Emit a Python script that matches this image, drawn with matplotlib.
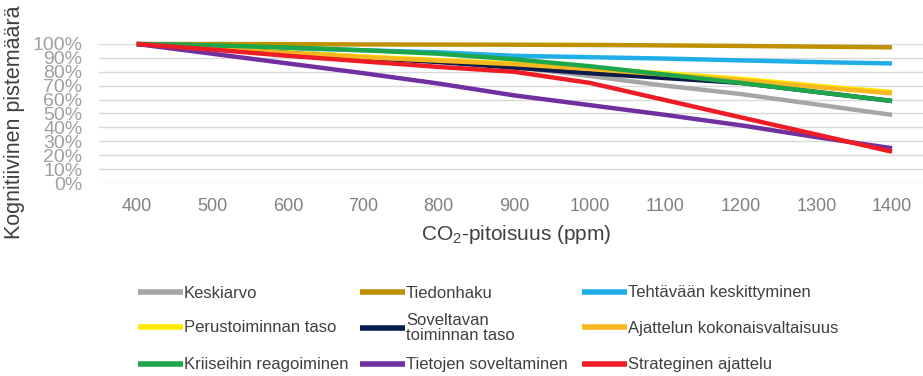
import matplotlib
matplotlib.use('Agg')
import matplotlib.pyplot as plt

plt.rcParams['font.family'] = ['Liberation Sans', 'DejaVu Sans']
plt.rcParams['mathtext.default'] = 'regular'

# ---- data ----
ppm = [400, 500, 600, 700, 800, 900, 1000, 1100, 1200, 1300, 1400]

keskiarvo      = [100, 97, 94, 91, 87.5, 83.5, 77, 70, 64, 56.5, 49]
tiedonhaku     = [100, 100, 99.8, 99.7, 99.6, 99.5, 99.3, 99, 98.6, 98.1, 97.6]
tehtavaan      = [100, 98.5, 97, 95.5, 94, 91.5, 90.5, 89.5, 88.2, 87, 86]
perustoiminnan = [100, 97.5, 94, 91, 88.5, 86, 82.5, 79, 75, 70, 65.5]
soveltavan     = [100, 97, 93.5, 90, 87, 83, 79, 75.5, 72, 65.5, 59]
ajattelun      = [100, 97, 93.5, 90.5, 88, 85.5, 82, 78, 74, 69, 64.5]
kriiseihin     = [100, 99, 97.5, 95.5, 93, 89, 84, 78, 72, 65.5, 59]
tietojen       = [100, 93, 86, 79, 71.5, 63, 56, 49, 41.5, 33, 25]
strateginen    = [100, 96, 91.5, 87.5, 83.5, 80, 72, 59.6, 47.2, 34.9, 22.5]

series = [
    ('Keskiarvo', keskiarvo, '#A6A6A6'),
    ('Tiedonhaku', tiedonhaku, '#BF9000'),
    ('Tehtävään keskittyminen', tehtavaan, '#1FAEE8'),
    ('Perustoiminnan taso', perustoiminnan, '#FFEB00'),
    ('Soveltavan\ntoiminnan taso', soveltavan, '#0A1A4A'),
    ('Ajattelun kokonaisvaltaisuus', ajattelun, '#F7B71E'),
    ('Kriiseihin reagoiminen', kriiseihin, '#1DA64A'),
    ('Tietojen soveltaminen', tietojen, '#7030A0'),
    ('Strateginen ajattelu', strateginen, '#EE1C25'),
]

W, H = 923, 376
fig = plt.figure(figsize=(W / 100, H / 100), dpi=100)
ax = fig.add_axes([99 / W, 1 - 183 / H, (W - 99) / W, (183 - 44) / H])

lines = []
for name, vals, col in series:
    ln, = ax.plot(ppm, vals, color=col, linewidth=3.2, label=name,
                  solid_capstyle='butt', clip_on=False)
    lines.append(ln)

ax.set_xlim(350, 1441)
ax.set_ylim(0, 100)
ax.set_xticks(ppm)
ax.set_yticks(range(0, 101, 10))
ax.set_yticklabels([f'{v}%' for v in range(0, 101, 10)])
ax.grid(True, axis='y', color='#D9D9D9', linewidth=1)
ax.set_axisbelow(True)
for s in ax.spines.values():
    s.set_visible(False)
ax.tick_params(axis='x', length=0, pad=11, labelsize=13, labelcolor='#808080')
ax.tick_params(axis='y', length=0, pad=12, labelsize=14, labelcolor='#A0A0A0')

fig.text(15 / W, 1 - 122 / H, 'Kognitiivinen pistemäärä', rotation=90,
         ha='center', va='center', fontsize=15.5, color='#404040')
fig.text(516 / W, 1 - 234 / H, 'CO$_2$-pitoisuus (ppm)',
         ha='center', va='center', fontsize=15, color='#404040')

# legend: 3 x 3 grid of equal-width cells, one small legend per entry
col_x = [138, 360, 582]
row_y = [293, 328, 365]
for i, (name, vals, col) in enumerate(series):
    r, c = divmod(i, 3)
    leg = fig.legend([lines[i]], [name], loc='center left',
                     bbox_to_anchor=(col_x[c] / W, 1 - row_y[r] / H),
                     frameon=False, fontsize=12, handlelength=2.7,
                     handletextpad=0.05, borderpad=0, borderaxespad=0)
    for t in leg.get_texts():
        t.set_color('#404040')
        t.set_linespacing(0.95)
    for h in leg.legend_handles:
        h.set_linewidth(4)

fig.savefig('out.png', dpi=100)
